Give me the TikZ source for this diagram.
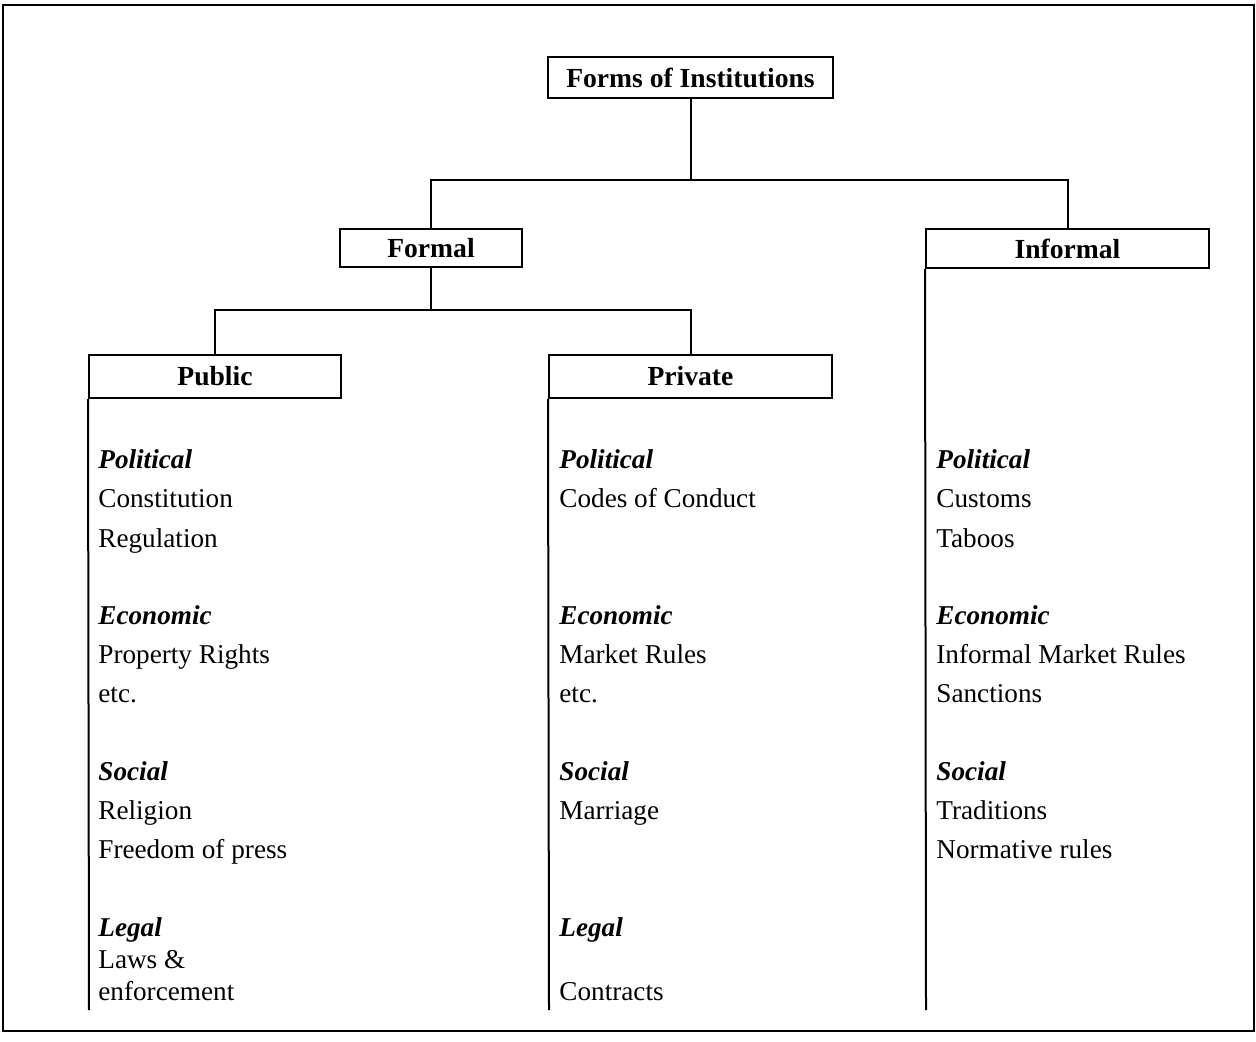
\documentclass[tikz,border=0pt]{standalone}
\usepackage{fontspec}
\setmainfont{Liberation Serif}
\begin{document}
\begin{tikzpicture}[x=0.5pt,y=-0.5pt,
  box/.style={draw,line width=1pt,rectangle,inner sep=0pt,font=\fontsize{13.8}{16}\selectfont\bfseries},
  item/.style={anchor=base west,inner sep=0pt,font=\fontsize{13.6}{16}\selectfont},
  cat/.style={item,font=\fontsize{13.6}{16}\selectfont\bfseries\itshape},
  conn/.style={line width=1pt}]
\useasboundingbox (0,0) rectangle (1256,1041);
\draw[line width=1.3pt] (3,5) rectangle (1254,1031);
% boxes
\node[box,minimum width=142.5pt,minimum height=20.5pt] (top) at (690.5,77.5) {Forms of Institutions};
\node[box,minimum width=91pt,minimum height=19pt] (formal) at (431,248) {Formal};
\node[box,minimum width=141.5pt,minimum height=19.5pt] (informal) at (1067.5,248.5) {Informal};
\node[box,minimum width=126pt,minimum height=21.5pt] (public) at (215,376.5) {Public};
\node[box,minimum width=141.5pt,minimum height=21.5pt] (private) at (690.5,376.5) {Private};
% connectors
\coordinate (j1) at (690.5,180);
\coordinate (j2) at (431,310);
\draw[conn] (top.south) -- (j1);
\draw[conn] (formal.north) |- (j1) -| (informal.north);
\draw[conn] (formal.south) -- (j2);
\draw[conn] (public.north) |- (j2) -| (private.north);
\coordinate (e1) at (89,1010);
\coordinate (e2) at (549,1010);
\coordinate (e3) at (926,1010);
\draw[conn] (public.south west) -- (e1);
\draw[conn] (private.south west) -- (e2);
\draw[conn] (informal.south west) -- (e3);
% Public column
\node[cat]  (p1) at (98,468) {Political};
\node[item] (p2) at (98,507) {Constitution};
\node[item] (p3) at (98,547) {Regulation};
\node[cat]  (p4) at (98,624) {Economic};
\node[item] (p5) at (98,663) {Property Rights};
\node[item] (p6) at (98,702) {etc.};
\node[cat]  (p7) at (98,780) {Social};
\node[item] (p8) at (98,819) {Religion};
\node[item] (p9) at (98,858) {Freedom of press};
\node[cat]  (p10) at (98,936) {Legal};
\node[item] (p11) at (98,968) {Laws \&};
\node[item] (p12) at (98,1000) {enforcement};
% Private column
\node[cat]  (q1) at (559,468) {Political};
\node[item] (q2) at (559,507) {Codes of Conduct};
\node[cat]  (q4) at (559,624) {Economic};
\node[item] (q5) at (559,663) {Market Rules};
\node[item] (q6) at (559,702) {etc.};
\node[cat]  (q7) at (559,780) {Social};
\node[item] (q8) at (559,819) {Marriage};
\node[cat]  (q10) at (559,936) {Legal};
\node[item] (q12) at (559,1000) {Contracts};
% Informal column
\node[cat]  (r1) at (936,468) {Political};
\node[item] (r2) at (936,507) {Customs};
\node[item] (r3) at (936,547) {Taboos};
\node[cat]  (r4) at (936,624) {Economic};
\node[item] (r5) at (936,663) {Informal Market Rules};
\node[item] (r6) at (936,702) {Sanctions};
\node[cat]  (r7) at (936,780) {Social};
\node[item] (r8) at (936,819) {Traditions};
\node[item] (r9) at (936,858) {Normative rules};
\end{tikzpicture}
\end{document}
